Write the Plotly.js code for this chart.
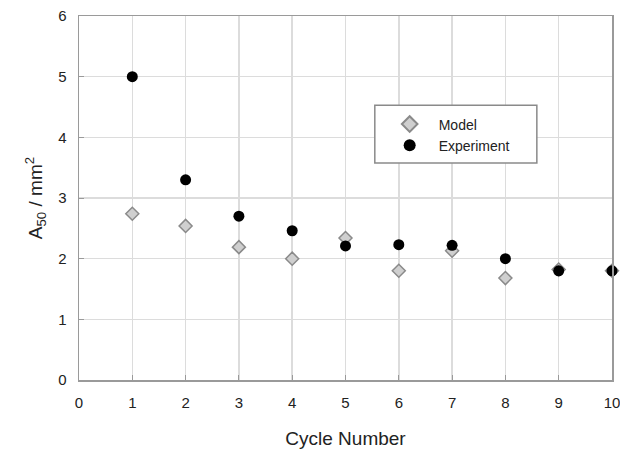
<!DOCTYPE html>
<html><head><meta charset="utf-8">
<script src="https://cdn.plot.ly/plotly-3.0.1.min.js"></script>
<style>html,body{margin:0;padding:0;background:#fff}</style>
</head><body><div id="chart" style="width:620px;height:455px"></div>
<script>
const cycles = [1,2,3,4,5,6,7,8,9,10];
const modelValues = [2.74,2.54,2.19,2.00,2.34,1.80,2.13,1.68,1.82,1.80];
const experimentValues = [5.00,3.30,2.70,2.46,2.21,2.23,2.22,2.00,1.80,1.80];
const xTicks = [0,1,2,3,4,5,6,7,8,9,10];
const yTicks = [0,1,2,3,4,5,6];

const traces = [
  {x: cycles, y: modelValues, name: 'Model', type: 'scatter', mode: 'markers', cliponaxis: false,
   marker: {symbol: 'diamond', size: 10, color: '#cfcfcf', line: {color: '#8a8a8a', width: 1.5}}},
  {x: cycles, y: experimentValues, name: 'Experiment', type: 'scatter', mode: 'markers', cliponaxis: false,
   marker: {symbol: 'circle', size: 11, color: '#000000'}}
];
const axisCommon = {showline: true, linecolor: '#9a9a9a', linewidth: 1.5, mirror: true,
  showgrid: true, gridcolor: '#dcdcdc', gridwidth: 1.5, zeroline: false,
  ticks: 'inside', ticklen: 5, tickcolor: '#9a9a9a', ticklabeloverflow: 'allow',
  tickfont: {family: 'Liberation Sans, Arial, sans-serif', size: 15, color: '#222'}};
const layout = {
  width: 620, height: 455,
  margin: {l: 79, r: 8, t: 16, b: 75},
  paper_bgcolor: '#fff', plot_bgcolor: '#fff',
  font: {family: 'Liberation Sans, Arial, sans-serif', color: '#222'},
  showlegend: true,
  legend: {x: 0.566, y: 0.746, xanchor: 'left', yanchor: 'top', bgcolor: 'rgba(0,0,0,0)',
    borderwidth: 0, font: {size: 14, color: '#222'}, itemsizing: 'constant',
    itemwidth: 48, tracegroupgap: 0},
  shapes: [{type: 'rect', xref: 'paper', yref: 'paper', x0: 0.555, x1: 0.859, y0: 0.596, y1: 0.755,
    fillcolor: '#ffffff', line: {color: '#8a8a8a', width: 1.5}, layer: 'above'}],
  xaxis: Object.assign({}, axisCommon, {range: [0, 10], tickvals: xTicks, ticktext: xTicks.map(String),
    ticklabelstandoff: 8,
    title: {text: 'Cycle Number', font: {size: 19, color: '#222'}, standoff: 22}}),
  yaxis: Object.assign({}, axisCommon, {range: [0, 6], tickvals: yTicks, ticktext: yTicks.map(String),
    ticklabelstandoff: 8,
    title: {text: 'A<sub>50</sub> / mm<sup>2</sup>', font: {size: 19, color: '#222'}, standoff: 10}})
};
Plotly.newPlot('chart', traces, layout, {displayModeBar: false, staticPlot: true});
</script></body></html>
